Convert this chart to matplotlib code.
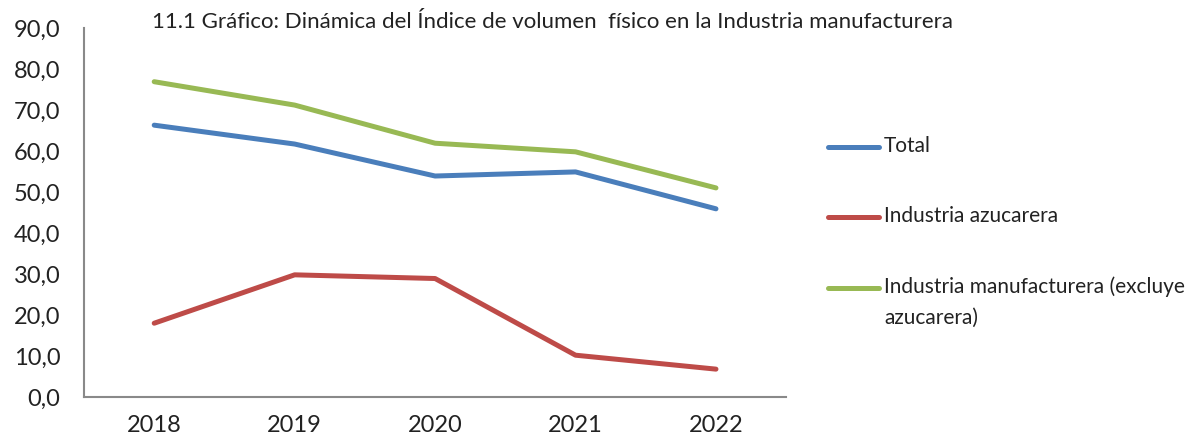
import matplotlib.pyplot as plt
from matplotlib.lines import Line2D

years = ['2018', '2019', '2020', '2021', '2022']
total = [66.3, 61.7, 53.9, 54.9, 45.9]
azucarera = [18.0, 29.8, 28.9, 10.2, 6.8]
manufacturera = [76.9, 71.2, 61.9, 59.8, 51.0]

series_names = ['Total', 'Industria azucarera',
                'Industria manufacturera (excluye\nazucarera)']
colors = ['#4A7EBB', '#BE4B48', '#98B954']

plt.rcParams['font.family'] = ['Lato', 'DejaVu Sans']

fig = plt.figure(figsize=(11.93, 4.43), dpi=100)
ax = fig.add_axes([0.0704, 0.1038, 0.5886, 0.833])

x = range(len(years))
for vals, c in zip([total, azucarera, manufacturera], colors):
    ax.plot(x, vals, color=c, lw=3.6, solid_capstyle='round', solid_joinstyle='round')

ax.set_xlim(-0.5, len(years) - 0.5)
ax.set_ylim(0, 90)
ax.set_xticks(list(x))
ax.set_xticklabels(years)
ax.set_yticks(range(0, 91, 10))
ax.set_yticklabels([f'{v},0' for v in range(0, 91, 10)])
ax.tick_params(length=0, labelsize=17, colors='#222222')
ax.tick_params(axis='x', pad=13)
ax.tick_params(axis='y', pad=17)
for s in ['top', 'right']:
    ax.spines[s].set_visible(False)
for s in ['left', 'bottom']:
    ax.spines[s].set_color('#898989')
    ax.spines[s].set_linewidth(1.5)

fig.text(0.1275, 0.95, '11.1 Gráfico: Dinámica del Índice de volumen  físico en la Industria manufacturera',
         fontsize=16, color='#222222', va='center')

# legend drawn by hand so the handle lines up with the first text line
leg_y = [147, 217, 288]
for name, c, yp in zip(series_names, colors, leg_y):
    fy = 1 - yp / 443
    fig.add_artist(Line2D([828 / 1193, 879 / 1193], [fy, fy], color=c, lw=3.6,
                          solid_capstyle='round'))
    if '\n' in name:
        fig.text(884 / 1193, fy + 0.027, name, fontsize=15, color='#222222',
                 va='top', linespacing=1.7)
    else:
        fig.text(884 / 1193, fy + 0.002, name, fontsize=15, color='#222222',
                 va='center')

fig.savefig('out.png', dpi=100)
